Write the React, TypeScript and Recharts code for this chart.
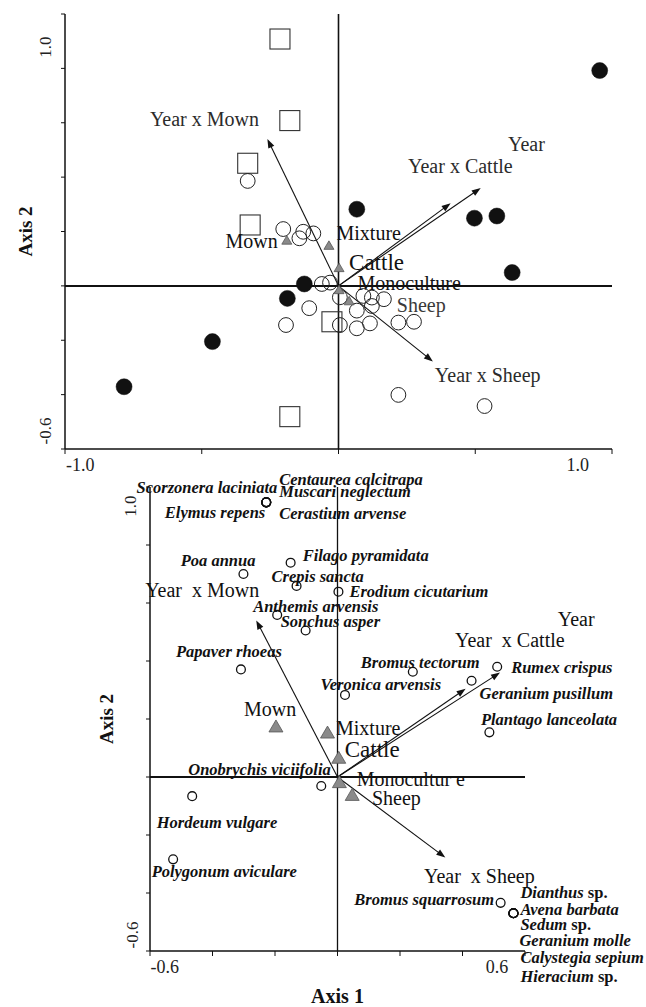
import React from 'react';
import { ScatterChart, Scatter, XAxis, YAxis, ReferenceLine, Label } from 'recharts';

const FONT = '"Liberation Serif", "Times New Roman", serif';

// ---------- data ----------
// biplot arrows (environmental variables), shared by both panels
const arrows = [
  { name: 'Year x Mown', x: -0.26, y: 0.54 },
  { name: 'Year x Cattle', x: 0.41, y: 0.304 },
  { name: 'Year', x: 0.52, y: 0.36 },
  { name: 'Year x Sheep', x: 0.345, y: -0.278 },
];

// top panel: sites
const topSquares = [
  { x: -0.214, y: 0.908 }, { x: -0.178, y: 0.608 }, { x: -0.332, y: 0.451 },
  { x: -0.323, y: 0.224 }, { x: -0.024, y: -0.132 }, { x: -0.178, y: -0.481 },
];
const topFilled = [
  { x: 0.955, y: 0.792 }, { x: 0.067, y: 0.282 }, { x: 0.497, y: 0.249 },
  { x: 0.579, y: 0.257 }, { x: 0.635, y: 0.049 }, { x: -0.125, y: 0.007 },
  { x: -0.187, y: -0.046 }, { x: -0.461, y: -0.205 }, { x: -0.784, y: -0.371 },
];
const topOpen = [
  { x: -0.332, y: 0.386 }, { x: -0.202, y: 0.209 }, { x: -0.143, y: 0.175 },
  { x: -0.129, y: 0.199 }, { x: -0.092, y: 0.193 }, { x: -0.061, y: 0.007 },
  { x: -0.031, y: 0.012 }, { x: 0.005, y: -0.042 }, { x: -0.107, y: -0.082 },
  { x: -0.192, y: -0.144 }, { x: 0.005, y: -0.144 }, { x: 0.067, y: -0.156 },
  { x: 0.067, y: -0.091 }, { x: 0.091, y: -0.037 }, { x: 0.122, y: -0.043 },
  { x: 0.166, y: -0.049 }, { x: 0.122, y: -0.074 }, { x: 0.115, y: -0.138 },
  { x: 0.219, y: -0.135 }, { x: 0.276, y: -0.132 }, { x: 0.219, y: -0.401 },
  { x: 0.534, y: -0.442 },
];
const topTreatments = [
  { name: 'Mown', x: -0.189, y: 0.169 },
  { name: 'Mixture', x: -0.035, y: 0.15 },
  { name: 'Cattle', x: 0.002, y: 0.068 },
  { name: 'Monoculture', x: 0.002, y: -0.013 },
  { name: 'Sheep', x: 0.039, y: -0.054 },
];

// bottom panel: species and treatments
const species = [
  { name: 'Centaurea calcitrapa', x: -0.228, y: 0.947 },
  { name: 'Scorzonera laciniata', x: -0.228, y: 0.947 },
  { name: 'Muscari neglectum', x: -0.228, y: 0.947 },
  { name: 'Elymus repens', x: -0.228, y: 0.947 },
  { name: 'Cerastium arvense', x: -0.228, y: 0.947 },
  { name: 'Filago pyramidata', x: -0.15, y: 0.739 },
  { name: 'Poa annua', x: -0.301, y: 0.7 },
  { name: 'Crepis sancta', x: -0.131, y: 0.659 },
  { name: 'Erodium cicutarium', x: 0.003, y: 0.639 },
  { name: 'Anthemis arvensis', x: -0.193, y: 0.559 },
  { name: 'Sonchus asper', x: -0.102, y: 0.505 },
  { name: 'Papaver rhoeas', x: -0.309, y: 0.371 },
  { name: 'Bromus tectorum', x: 0.241, y: 0.363 },
  { name: 'Rumex crispus', x: 0.511, y: 0.38 },
  { name: 'Geranium pusillum', x: 0.429, y: 0.332 },
  { name: 'Veronica arvensis', x: 0.024, y: 0.283 },
  { name: 'Plantago lanceolata', x: 0.486, y: 0.154 },
  { name: 'Onobrychis viciifolia', x: -0.052, y: -0.031 },
  { name: 'Hordeum vulgare', x: -0.465, y: -0.066 },
  { name: 'Polygonum aviculare', x: -0.526, y: -0.284 },
  { name: 'Bromus squarrosum', x: 0.522, y: -0.434 },
  { name: 'Dianthus sp.', x: 0.563, y: -0.47 },
  { name: 'Avena barbata', x: 0.563, y: -0.47 },
  { name: 'Sedum sp.', x: 0.563, y: -0.47 },
  { name: 'Geranium molle', x: 0.563, y: -0.47 },
  { name: 'Calystegia sepium', x: 0.563, y: -0.47 },
  { name: 'Hieracium sp.', x: 0.563, y: -0.47 },
];
const bottomTreatments = [
  { name: 'Mown', x: -0.197, y: 0.176 },
  { name: 'Mixture', x: -0.032, y: 0.155 },
  { name: 'Cattle', x: 0.004, y: 0.068 },
  { name: 'Monoculture', x: 0.006, y: -0.016 },
  { name: 'Sheep', x: 0.047, y: -0.06 },
];

// axes
const topXTicks = [-1, -0.5, 0, 0.5, 1];
const topYTicks = [-0.6, -0.4, -0.2, 0, 0.2, 0.4, 0.6, 0.8, 1];
const bottomXTicks = [-0.6, -0.4, -0.2, 0, 0.2, 0.4, 0.6];
const bottomYTicks = [-0.6, -0.4, -0.2, 0, 0.2, 0.4, 0.6, 0.8, 1];

// ---------- label placement (pixel offsets from marks) ----------
type Off = { dx: number; dy: number; anchor?: 'start' | 'end' | 'middle'; size?: number; color?: string; text?: string };

const topXLabels: Record<string, Off> = { '-1.0': { dx: 1, dy: 17, anchor: 'start' }, '1.0': { dx: -23, dy: 17, anchor: 'end' } };
const topYLabels: Record<string, Off> = { '1.0': { dx: -16, dy: 33 }, '-0.6': { dx: -16, dy: -18 } };
const bottomXLabels: Record<string, Off> = { '-0.6': { dx: 0.5, dy: 17, anchor: 'start' }, '0.6': { dx: -16.7, dy: 17, anchor: 'end' } };
const bottomYLabels: Record<string, Off> = { '1.0': { dx: -15.5, dy: 19 }, '-0.6': { dx: -14, dy: -16 } };

const topArrowLabels: Record<string, Off> = {
  'Year x Mown': { dx: -8.4, dy: -13, anchor: 'end', color: '#2b2b2b' },
  'Year x Cattle': { dx: -42.6, dy: -30.2, color: '#2b2b2b' },
  Year: { dx: 27.3, dy: -37, color: '#2b2b2b' },
  'Year x Sheep': { dx: 2, dy: 20.5, color: '#2b2b2b' },
};
const bottomArrowLabels: Record<string, Off> = {
  'Year x Mown': { dx: 3, dy: -23.7, anchor: 'end', text: 'Year  x Mown' },
  'Year x Cattle': { dx: -10.6, dy: -41.5, text: 'Year  x Cattle' },
  Year: { dx: 57.7, dy: -46.6 },
  'Year x Sheep': { dx: -21.3, dy: 25.4, text: 'Year  x Sheep' },
};
const topTreatLabels: Record<string, Off> = {
  Mown: { dx: -9, dy: 7.6, anchor: 'end' },
  Mixture: { dx: 7.6, dy: -5 },
  Cattle: { dx: 10, dy: 2.3, size: 23 },
  Monoculture: { dx: 18.5, dy: 1 },
  Sheep: { dx: 47.7, dy: 11.2, color: '#3a3a3a' },
};
const bottomTreatLabels: Record<string, Off> = {
  Mown: { dx: -32, dy: -9.5 },
  Mixture: { dx: 8.5, dy: 3 },
  Cattle: { dx: 6, dy: -0.6, size: 23 },
  Monoculture: { dx: 17.3, dy: 4.4, text: 'Monocultur e' },
  Sheep: { dx: 19.8, dy: 10.6 },
};
const speciesLabels: Record<string, Off> = {
  'Centaurea calcitrapa': { dx: 13, dy: -17.5 },
  'Scorzonera laciniata': { dx: 11, dy: -9, anchor: 'end' },
  'Muscari neglectum': { dx: 13, dy: -5 },
  'Elymus repens': { dx: -1, dy: 16, anchor: 'end' },
  'Cerastium arvense': { dx: 13, dy: 16.5 },
  'Filago pyramidata': { dx: 12, dy: -2 },
  'Poa annua': { dx: 12, dy: -8, anchor: 'end' },
  'Crepis sancta': { dx: -25, dy: -4 },
  'Erodium cicutarium': { dx: 11, dy: 5 },
  'Anthemis arvensis': { dx: -24, dy: -3 },
  'Sonchus asper': { dx: -25, dy: -4 },
  'Papaver rhoeas': { dx: -65, dy: -12.5 },
  'Bromus tectorum': { dx: -52, dy: -3.5 },
  'Rumex crispus': { dx: 14, dy: 6.5 },
  'Geranium pusillum': { dx: 8, dy: 18.5 },
  'Veronica arvensis': { dx: -24.5, dy: -5 },
  'Plantago lanceolata': { dx: -8.5, dy: -7.5 },
  'Onobrychis viciifolia': { dx: 9.5, dy: -11, anchor: 'end' },
  'Hordeum vulgare': { dx: -35.5, dy: 32 },
  'Polygonum aviculare': { dx: -21.5, dy: 18 },
  'Bromus squarrosum': { dx: -6.5, dy: 2, anchor: 'end' },
  'Dianthus sp.': { dx: 7, dy: -15 },
  'Avena barbata': { dx: 7, dy: 1.7 },
  'Sedum sp.': { dx: 7, dy: 16.7 },
  'Geranium molle': { dx: 6, dy: 32.7 },
  'Calystegia sepium': { dx: 7, dy: 49.4 },
  'Hieracium sp.': { dx: 7, dy: 68.4 },
};

// ---------- renderers ----------
const fmt = (v: number) => (Math.abs(v) < 1e-9 ? '0.0' : v.toFixed(1));

const makeXTick = (labels: Record<string, Off>) => (p: any) => {
  const key = fmt(p.payload.value);
  const o = labels[key];
  if (!o) return <g />;
  return (
    <text x={p.x + o.dx} y={p.y + o.dy} textAnchor={o.anchor || 'middle'} fontFamily={FONT} fontSize={18} fill="#222">
      {key}
    </text>
  );
};

const makeYTick = (labels: Record<string, Off>) => (p: any) => {
  const key = fmt(p.payload.value);
  const o = labels[key];
  if (!o) return <g />;
  const cx = p.x + o.dx;
  const cy = p.y + o.dy;
  return (
    <text x={cx} y={cy} dy="0.35em" textAnchor="middle" transform={`rotate(-90 ${cx} ${cy})`} fontFamily={FONT} fontSize={17} fill="#222">
      {key}
    </text>
  );
};

const yTitle = (xOff: number) => (p: any) => {
  const vb = p.viewBox || { x: 0, y: 0, width: 0, height: 0 };
  const cx = vb.x + xOff;
  const cy = vb.y + vb.height / 2;
  return (
    <text x={cx} y={cy} dy="0.35em" textAnchor="middle" transform={`rotate(-90 ${cx} ${cy})`} fontFamily={FONT} fontWeight="bold" fontSize={19} fill="#111">
      Axis 2
    </text>
  );
};

const xTitle = (p: any) => {
  const vb = p.viewBox || { x: 0, y: 0, width: 0, height: 0 };
  return (
    <text x={vb.x + vb.width / 2} y={vb.y + 52} textAnchor="middle" fontFamily={FONT} fontWeight="bold" fontSize={20} fill="#111">
      Axis 1
    </text>
  );
};

const arrowShape = (name: string, labels: Record<string, Off>) => (p: any) => {
  const { x1, y1, x2, y2 } = p;
  const o = labels[name];
  const ang = Math.atan2(y2 - y1, x2 - x1);
  const L = 9;
  const W = 3.3;
  const bx = x2 - L * Math.cos(ang);
  const by = y2 - L * Math.sin(ang);
  const px = -Math.sin(ang) * W;
  const py = Math.cos(ang) * W;
  return (
    <g>
      <line x1={x1} y1={y1} x2={bx + Math.cos(ang) * 2} y2={by + Math.sin(ang) * 2} stroke="#111" strokeWidth={1.1} />
      <polygon points={`${x2},${y2} ${bx + px},${by + py} ${bx - px},${by - py}`} fill="#111" />
      <text x={x2 + o.dx} y={y2 + o.dy} textAnchor={o.anchor || 'start'} fontFamily={FONT} fontSize={o.size || 20} fill={o.color || '#111'} style={{ whiteSpace: 'pre' }}>
        {o.text || name}
      </text>
    </g>
  );
};

const squareShape = (p: any) => (
  <rect x={p.cx - 10} y={p.cy - 10} width={20} height={20} fill="none" stroke="#333" strokeWidth={1.1} />
);
const openCircleShape = (p: any) => <circle cx={p.cx} cy={p.cy} r={7.4} fill="none" stroke="#222" strokeWidth={1} />;
const filledCircleShape = (p: any) => <circle cx={p.cx} cy={p.cy} r={8} fill="#111" stroke="#111" strokeWidth={0.5} />;

const treatShape = (labels: Record<string, Off>, w: number, h: number) => (p: any) => {
  const { cx, cy, payload } = p;
  const o = labels[payload.name];
  return (
    <g>
      <polygon
        points={`${cx},${cy - h / 2} ${cx - w / 2},${cy + h / 2} ${cx + w / 2},${cy + h / 2}`}
        fill="#8a8a8a"
        stroke="#555"
        strokeWidth={0.8}
      />
      <text x={cx + o.dx} y={cy + o.dy} textAnchor={o.anchor || 'start'} fontFamily={FONT} fontSize={o.size || 20} fill={o.color || '#111'} style={{ whiteSpace: 'pre' }}>
        {o.text || payload.name}
      </text>
    </g>
  );
};

const nameNode = (name: string) => {
  if (name.endsWith(' sp.')) {
    return [
      <tspan key="g" fontStyle="italic">{name.slice(0, -4)}</tspan>,
      <tspan key="s" fontStyle="normal"> sp.</tspan>,
    ];
  }
  return name;
};

const speciesShape = (p: any) => {
  const { cx, cy, payload } = p;
  const o = speciesLabels[payload.name];
  return (
    <g>
      <circle cx={cx} cy={cy} r={4.4} fill="none" stroke="#111" strokeWidth={1.3} />
      <text x={cx + o.dx} y={cy + o.dy} textAnchor={o.anchor || 'start'} fontFamily={FONT} fontSize={16.5} fontStyle="italic" fontWeight="bold" fill="#111" style={{ whiteSpace: 'pre' }}>
        {nameNode(payload.name)}
      </text>
    </g>
  );
};

const axisLine = { stroke: '#111', strokeWidth: 1.5 };
const tickLine = { stroke: '#111', strokeWidth: 1 };

function TopPanel() {
  return (
    <ScatterChart width={646} height={480} margin={{ top: 14, right: 34, bottom: 0, left: 0 }}>
      <XAxis type="number" dataKey="x" domain={[-1, 1]} ticks={topXTicks} interval={0} height={31} tickSize={5} tickMargin={0}
        axisLine={axisLine} tickLine={tickLine} tick={makeXTick(topXLabels)} />
      <YAxis type="number" dataKey="y" domain={[-0.6, 1]} ticks={topYTicks} interval={0} width={65} tickSize={4} tickMargin={0}
        axisLine={axisLine} tickLine={tickLine} tick={makeYTick(topYLabels)}>
        <Label content={yTitle(25)} />
      </YAxis>
      <ReferenceLine x={0} stroke="#111" strokeWidth={1.6} />
      <ReferenceLine y={0} stroke="#111" strokeWidth={2} />
      {arrows.map((a) => (
        <ReferenceLine key={a.name} segment={[{ x: 0, y: 0 }, { x: a.x, y: a.y }]} shape={arrowShape(a.name, topArrowLabels)} />
      ))}
      <Scatter data={topSquares} shape={squareShape} isAnimationActive={false} />
      <Scatter data={topOpen} shape={openCircleShape} isAnimationActive={false} />
      <Scatter data={topFilled} shape={filledCircleShape} isAnimationActive={false} />
      <Scatter data={topTreatments} shape={treatShape(topTreatLabels, 10, 8.5)} isAnimationActive={false} />
    </ScatterChart>
  );
}

function BottomPanel() {
  return (
    <ScatterChart width={646} height={552} margin={{ top: 32, right: 121, bottom: 0, left: 0 }}>
      <XAxis type="number" dataKey="x" domain={[-0.6, 0.6]} ticks={bottomXTicks} interval={0} height={56} tickSize={5} tickMargin={0}
        axisLine={axisLine} tickLine={tickLine} tick={makeXTick(bottomXLabels)}>
        <Label content={xTitle} />
      </XAxis>
      <YAxis type="number" dataKey="y" domain={[-0.6, 1]} ticks={bottomYTicks} interval={0} width={150} tickSize={4} tickMargin={0}
        axisLine={axisLine} tickLine={tickLine} tick={makeYTick(bottomYLabels)}>
        <Label content={yTitle(106.7)} />
      </YAxis>
      <ReferenceLine x={0} stroke="#111" strokeWidth={1.3} />
      <ReferenceLine y={0} stroke="#111" strokeWidth={2} />
      {arrows.map((a) => (
        <ReferenceLine key={a.name} segment={[{ x: 0, y: 0 }, { x: a.x, y: a.y }]} shape={arrowShape(a.name, bottomArrowLabels)} />
      ))}
      <Scatter data={species} shape={speciesShape} isAnimationActive={false} />
      <Scatter data={bottomTreatments} shape={treatShape(bottomTreatLabels, 14, 12)} isAnimationActive={false} />
    </ScatterChart>
  );
}

export default function App() {
  return (
    <div style={{ position: 'absolute', left: 0, top: 0, width: 646, height: 1007, background: '#fff', overflow: 'hidden' }}>
      <div style={{ position: 'absolute', left: 0, top: 0 }}>
        <TopPanel />
      </div>
      <div style={{ position: 'absolute', left: 0, top: 455 }}>
        <BottomPanel />
      </div>
    </div>
  );
}
